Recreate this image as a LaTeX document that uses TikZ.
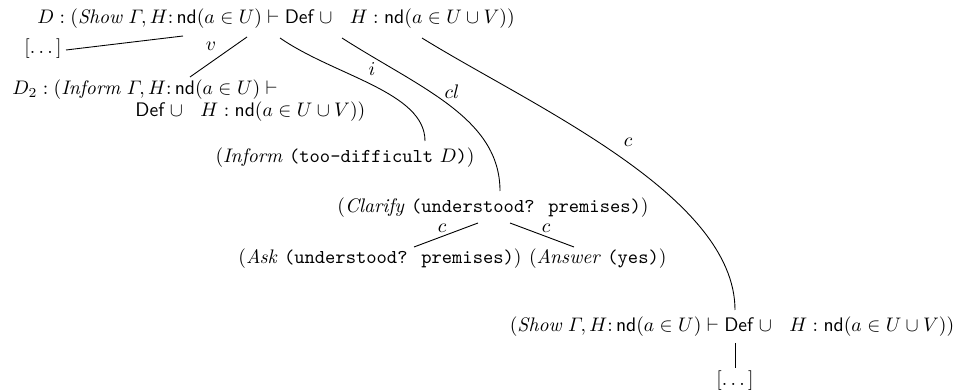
\documentclass[tikz,border=0pt]{standalone}
\usepackage{amsmath}
\begin{document}
\begin{tikzpicture}[x=0.51pt,y=-0.51pt,
  txt/.style={inner sep=0pt, anchor=base},
  lbl/.style={inner sep=0pt, anchor=base},
  edge/.style={line width=0.45pt}]
\useasboundingbox (0,0) rectangle (970,392);
% nodes
\node[txt] (root) at (276,24) {$D : (\textit{Show}\ \varGamma, H{:}\,\mathsf{nd}(a \in U) \vdash \mathsf{Def} \cup\ \ H : \mathsf{nd}(a \in U \cup V))$};
\node[txt] (dotsA) at (43,54) {$[\dots]$};
\node[txt, anchor=base west] (d2) at (12,95) {$D_2 : (\textit{Inform}\ \varGamma, H{:}\,\mathsf{nd}(a \in U) \vdash$};
\node[txt, anchor=base west] (d2b) at (135,117) {$\mathsf{Def} \cup\ \ H : \mathsf{nd}(a \in U \cup V))$};
\node[txt] (inform) at (345,163) {(\textit{Inform} \texttt{(too-difficult} $D$\texttt{)})};
\node[txt] (clarify) at (493,213) {(\textit{Clarify} \texttt{(understood? premises)})};
\node[txt] (ask) at (380,264) {(\textit{Ask} \texttt{(understood? premises)})};
\node[txt, anchor=base west] (answer) at ([xshift=3.4pt]ask.base east) {(\textit{Answer} \texttt{(yes)})};
\node[txt] (show) at (732,331) {$(\textit{Show}\ \varGamma, H{:}\,\mathsf{nd}(a \in U) \vdash \mathsf{Def} \cup\ \ H : \mathsf{nd}(a \in U \cup V))$};
\node[txt] (dotsB) at (735,385) {$[\dots]$};
% attachment points
\coordinate (rA) at (183,36);
\coordinate (rB) at (247,37);
\coordinate (rC) at (280,38);
\coordinate (rD) at (342,38);
\coordinate (rE) at (422,38);
\coordinate (dotsAR) at (66,50);
\coordinate (d2top) at (190,77);
\coordinate (infTop) at (425,141);
\coordinate (claTop) at (500,191);
\coordinate (showTop) at (735,310);
\coordinate (claL) at (478,223);
\coordinate (claR) at (510,223);
\coordinate (askTop) at (414,247);
\coordinate (ansTop) at (574,247);
\coordinate (showBot) at (735,343);
\coordinate (dotsBTop) at (735,368);
% connectors
\draw[edge] (rA) -- (dotsAR);
\draw[edge] (rB) -- (d2top);
\draw[edge] (rC) .. controls (335,76) and (425,92) .. (infTop);
\draw[edge] (rD) .. controls (420,88) and (500,118) .. (claTop);
\draw[edge] (rE) .. controls (530,105) and (735,195) .. (showTop);
\draw[edge] (claL) -- (askTop);
\draw[edge] (claR) -- (ansTop);
\draw[edge] (showBot) -- (dotsBTop);
% labels
\node[lbl] (lv) at (211,51) {$v$};
\node[lbl] (li) at (372,76) {$i$};
\node[lbl] (lcl) at (452,99) {$cl$};
\node[lbl] (lc1) at (628,147) {$c$};
\node[lbl] (lc2) at (442,233) {$c$};
\node[lbl] (lc3) at (546,233) {$c$};
\end{tikzpicture}
\end{document}
